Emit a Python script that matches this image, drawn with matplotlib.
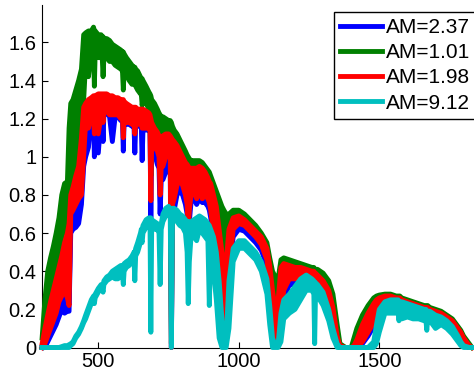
import matplotlib
matplotlib.use('Agg')
import matplotlib.pyplot as plt

plt.rcParams['font.family'] = ['Liberation Sans', 'DejaVu Sans']

# wavelength grid (nm)
wavelength = [300, 310, 320, 330, 340, 350, 360, 370, 380, 390, 396, 402, 410, 420, 430, 440, 448,
              455, 465, 475, 483, 486, 489, 500, 510, 514, 517, 520, 530, 540, 550, 560, 570, 580,
              586, 589, 592, 600, 610, 620, 627, 630, 633, 640, 650, 653, 656, 659, 670, 680,
              684, 687, 690, 700,
              710, 716, 720, 724, 730, 740, 750, 756, 760, 764, 770, 780, 790, 800, 810,
              816, 820, 824, 830, 840, 850, 860, 870, 880, 890, 895, 900, 910, 920, 930,
              940, 947, 955, 965, 980, 1000,
              1020, 1040, 1060, 1080, 1100, 1110, 1120, 1130, 1140, 1150, 1160, 1180, 1200, 1220, 1240,
              1260, 1267, 1270, 1273, 1280, 1300, 1320, 1335, 1350, 1360, 1380, 1400,
              1410, 1420, 1440, 1460, 1480, 1490, 1500, 1520, 1540, 1560, 1567, 1570, 1573, 1580, 1600,
              1620, 1640, 1660, 1666, 1669, 1672, 1680, 1700, 1720, 1740, 1760, 1780, 1790, 1800, 1820,
              1830]

# each spectrum wiggles fast, so keep its upper and lower edge
am237_top = [0.00, 0.04, 0.10, 0.14, 0.18, 0.22, 0.26, 0.28, 0.27, 0.24, 0.23, 0.78, 0.80, 0.87, 0.92, 1.05, 1.22,
             1.22, 1.24, 1.24, 1.24, 1.24, 1.24, 1.25, 1.25, 1.25, 1.24, 1.25, 1.25, 1.24, 1.24, 1.23, 1.23, 1.22,
             1.22, 1.22, 1.22, 1.21, 1.20, 1.19, 1.19, 1.19, 1.18, 1.18, 1.18, 1.18, 1.18, 1.17, 1.16, 1.15,
             1.14, 1.12, 1.10, 1.08,
             1.07, 1.05, 1.04, 1.04, 1.05, 1.06, 1.06, 1.05, 1.04, 1.03, 1.02, 1.00, 0.97, 0.94, 0.91,
             0.90, 0.89, 0.88, 0.88, 0.88, 0.88, 0.89, 0.88, 0.86, 0.84, 0.82, 0.81, 0.76, 0.70, 0.58,
             0.46, 0.36, 0.40, 0.58, 0.64, 0.66,
             0.65, 0.62, 0.59, 0.55, 0.50, 0.41, 0.28, 0.18, 0.22, 0.40, 0.42, 0.41, 0.40, 0.40, 0.39,
             0.38, 0.38, 0.37, 0.37, 0.36, 0.33, 0.28, 0.19, 0.05, 0.00, 0.00, 0.00,
             0.00, 0.02, 0.10, 0.16, 0.21, 0.23, 0.24, 0.25, 0.25, 0.25, 0.25, 0.25, 0.25, 0.24, 0.23,
             0.22, 0.21, 0.20, 0.20, 0.20, 0.20, 0.19, 0.18, 0.17, 0.15, 0.13, 0.09, 0.07, 0.04, 0.00,
             0.00]
am237_bot = [0.00, 0.00, 0.03, 0.06, 0.09, 0.12, 0.16, 0.20, 0.18, 0.19, 0.19, 0.60, 0.62, 0.63, 0.65, 0.75, 0.95,
             1.00, 1.05, 1.21, 1.21, 1.00, 1.21, 1.02, 1.21, 1.21, 1.08, 1.23, 1.23, 1.21, 1.08, 1.21, 1.21, 1.19,
             1.19, 1.03, 1.19, 1.17, 1.17, 1.16, 1.16, 1.02, 1.16, 1.16, 1.16, 1.16, 0.98, 1.14, 1.14, 1.14,
             1.13, 0.68, 1.05, 1.02,
             0.96, 0.94, 0.70, 0.88, 0.88, 0.92, 0.92, 0.92, 0.00, 0.70, 0.72, 0.80, 0.82, 0.80, 0.75,
             0.70, 0.57, 0.66, 0.76, 0.78, 0.75, 0.78, 0.76, 0.76, 0.74, 0.72, 0.68, 0.56, 0.40, 0.25,
             0.14, 0.08, 0.16, 0.35, 0.58, 0.62,
             0.61, 0.58, 0.55, 0.51, 0.43, 0.27, 0.10, 0.04, 0.06, 0.12, 0.25, 0.33, 0.33, 0.34, 0.34,
             0.33, 0.31, 0.28, 0.31, 0.31, 0.27, 0.21, 0.12, 0.01, 0.00, 0.00, 0.00,
             0.00, 0.00, 0.02, 0.06, 0.11, 0.15, 0.18, 0.22, 0.22, 0.21, 0.21, 0.21, 0.21, 0.20, 0.19,
             0.18, 0.17, 0.16, 0.16, 0.16, 0.16, 0.16, 0.15, 0.14, 0.12, 0.09, 0.05, 0.03, 0.01, 0.00,
             0.00]

am101_top = [0.05, 0.25, 0.40, 0.47, 0.53, 0.60, 0.68, 0.80, 0.86, 0.87, 1.15, 1.28, 1.30, 1.35, 1.40, 1.46, 1.64,
             1.65, 1.66, 1.66, 1.68, 1.66, 1.66, 1.64, 1.64, 1.63, 1.63, 1.62, 1.62, 1.61, 1.59, 1.58, 1.57, 1.56,
             1.55, 1.55, 1.54, 1.52, 1.50, 1.48, 1.47, 1.47, 1.46, 1.45, 1.42, 1.41, 1.41, 1.40, 1.37, 1.34,
             1.33, 1.32, 1.30, 1.28,
             1.25, 1.23, 1.22, 1.21, 1.21, 1.20, 1.19, 1.19, 1.18, 1.16, 1.14, 1.12, 1.09, 1.06, 1.03,
             1.01, 1.00, 0.99, 0.98, 0.98, 0.98, 0.98, 0.97, 0.95, 0.93, 0.92, 0.90, 0.86, 0.82, 0.78,
             0.74, 0.72, 0.70, 0.70, 0.72, 0.72,
             0.70, 0.67, 0.64, 0.60, 0.55, 0.47, 0.40, 0.37, 0.36, 0.46, 0.47, 0.46, 0.45, 0.44, 0.43,
             0.42, 0.42, 0.41, 0.41, 0.41, 0.39, 0.35, 0.28, 0.12, 0.02, 0.00, 0.00,
             0.05, 0.10, 0.17, 0.22, 0.26, 0.27, 0.275, 0.28, 0.28, 0.27, 0.27, 0.27, 0.27, 0.26, 0.25,
             0.24, 0.23, 0.22, 0.22, 0.22, 0.22, 0.21, 0.20, 0.19, 0.17, 0.15, 0.11, 0.09, 0.06, 0.02,
             0.00]
am101_bot = [0.00, 0.08, 0.20, 0.30, 0.36, 0.42, 0.50, 0.58, 0.62, 0.66, 0.75, 0.85, 0.90, 1.00, 1.10, 1.18, 1.30,
             1.50, 1.42, 1.55, 1.55, 1.37, 1.55, 1.52, 1.52, 1.52, 1.42, 1.52, 1.52, 1.50, 1.50, 1.48, 1.47, 1.46,
             1.45, 1.35, 1.45, 1.43, 1.40, 1.38, 1.38, 1.38, 1.37, 1.35, 1.33, 1.33, 1.27, 1.30, 1.28, 1.25,
             1.25, 0.90, 1.20, 1.18,
             1.15, 1.12, 1.00, 1.10, 1.12, 1.12, 1.10, 1.10, 0.02, 1.00, 1.00, 1.00, 0.98, 0.95, 0.92,
             0.88, 0.70, 0.85, 0.88, 0.90, 0.90, 0.90, 0.88, 0.86, 0.84, 0.83, 0.80, 0.72, 0.60, 0.50,
             0.44, 0.42, 0.45, 0.60, 0.68, 0.69,
             0.67, 0.64, 0.61, 0.57, 0.50, 0.38, 0.30, 0.27, 0.28, 0.33, 0.40, 0.42, 0.42, 0.41, 0.40,
             0.39, 0.38, 0.35, 0.38, 0.38, 0.35, 0.30, 0.20, 0.05, 0.00, 0.00, 0.00,
             0.00, 0.03, 0.08, 0.15, 0.20, 0.23, 0.25, 0.26, 0.26, 0.25, 0.25, 0.25, 0.25, 0.24, 0.23,
             0.22, 0.21, 0.20, 0.20, 0.20, 0.20, 0.19, 0.18, 0.17, 0.15, 0.12, 0.08, 0.06, 0.03, 0.00,
             0.00]

am198_top = [0.02, 0.10, 0.17, 0.24, 0.30, 0.36, 0.42, 0.48, 0.55, 0.60, 0.65, 0.80, 0.84, 0.90, 0.95, 1.10, 1.26,
             1.28, 1.30, 1.31, 1.32, 1.32, 1.32, 1.33, 1.33, 1.33, 1.33, 1.33, 1.33, 1.32, 1.32, 1.31, 1.31, 1.30,
             1.30, 1.30, 1.29, 1.28, 1.27, 1.26, 1.26, 1.26, 1.26, 1.25, 1.25, 1.25, 1.25, 1.25, 1.24, 1.23,
             1.22, 1.20, 1.18, 1.15,
             1.13, 1.11, 1.10, 1.10, 1.11, 1.12, 1.12, 1.11, 1.10, 1.09, 1.08, 1.06, 1.03, 1.00, 0.97,
             0.96, 0.95, 0.94, 0.94, 0.94, 0.94, 0.95, 0.94, 0.92, 0.89, 0.87, 0.86, 0.80, 0.74, 0.62,
             0.50, 0.40, 0.45, 0.62, 0.68, 0.69,
             0.67, 0.64, 0.61, 0.58, 0.52, 0.43, 0.30, 0.20, 0.25, 0.42, 0.44, 0.43, 0.42, 0.42, 0.41,
             0.40, 0.40, 0.39, 0.39, 0.38, 0.35, 0.30, 0.21, 0.06, 0.01, 0.00, 0.00,
             0.01, 0.04, 0.12, 0.18, 0.23, 0.25, 0.26, 0.27, 0.27, 0.26, 0.26, 0.26, 0.26, 0.25, 0.24,
             0.23, 0.22, 0.21, 0.21, 0.21, 0.21, 0.20, 0.19, 0.18, 0.16, 0.14, 0.10, 0.08, 0.05, 0.01,
             0.00]
am198_bot = [0.00, 0.02, 0.06, 0.10, 0.14, 0.18, 0.24, 0.27, 0.30, 0.26, 0.22, 0.70, 0.72, 0.75, 0.78, 0.80, 1.00,
             1.18, 1.15, 1.22, 1.22, 1.12, 1.22, 1.12, 1.22, 1.22, 1.18, 1.24, 1.24, 1.22, 1.22, 1.22, 1.22, 1.20,
             1.20, 1.10, 1.20, 1.18, 1.18, 1.17, 1.17, 1.12, 1.17, 1.17, 1.17, 1.17, 1.15, 1.15, 1.15, 1.15,
             1.14, 0.77, 1.08, 1.05,
             1.03, 1.00, 0.80, 0.95, 0.95, 1.00, 1.00, 1.00, 0.00, 0.75, 0.78, 0.85, 0.88, 0.85, 0.80,
             0.75, 0.62, 0.72, 0.80, 0.82, 0.78, 0.82, 0.78, 0.80, 0.78, 0.76, 0.72, 0.60, 0.45, 0.30,
             0.18, 0.11, 0.20, 0.40, 0.62, 0.65,
             0.64, 0.61, 0.58, 0.54, 0.46, 0.30, 0.12, 0.05, 0.08, 0.15, 0.30, 0.36, 0.36, 0.37, 0.37,
             0.36, 0.34, 0.30, 0.34, 0.34, 0.30, 0.24, 0.14, 0.02, 0.00, 0.00, 0.00,
             0.00, 0.00, 0.03, 0.08, 0.13, 0.18, 0.21, 0.24, 0.24, 0.23, 0.23, 0.23, 0.23, 0.22, 0.21,
             0.20, 0.19, 0.18, 0.18, 0.18, 0.18, 0.17, 0.16, 0.15, 0.13, 0.10, 0.06, 0.04, 0.02, 0.00,
             0.00]

am912_top = [0.00, 0.00, 0.00, 0.00, 0.00, 0.00, 0.00, 0.005, 0.01, 0.01, 0.015, 0.02, 0.03, 0.06, 0.08, 0.11, 0.14,
             0.17, 0.21, 0.25, 0.27, 0.27, 0.28, 0.31, 0.33, 0.33, 0.33, 0.35, 0.37, 0.38, 0.40, 0.41, 0.42, 0.43,
             0.43, 0.43, 0.44, 0.45, 0.46, 0.48, 0.50, 0.50, 0.52, 0.55, 0.60, 0.62, 0.62, 0.64, 0.67, 0.68,
             0.68, 0.68, 0.67, 0.66,
             0.65, 0.64, 0.63, 0.65, 0.70, 0.73, 0.74, 0.72, 0.72, 0.73, 0.73, 0.72, 0.70, 0.69, 0.67,
             0.66, 0.66, 0.66, 0.66, 0.67, 0.68, 0.69, 0.68, 0.67, 0.65, 0.64, 0.62, 0.58, 0.50, 0.35,
             0.15, 0.02, 0.05, 0.35, 0.52, 0.56,
             0.56, 0.53, 0.50, 0.45, 0.36, 0.22, 0.05, 0.01, 0.02, 0.18, 0.25, 0.28, 0.32, 0.36, 0.38,
             0.36, 0.35, 0.34, 0.34, 0.33, 0.29, 0.20, 0.10, 0.02, 0.00, 0.00, 0.00,
             0.00, 0.00, 0.00, 0.00, 0.03, 0.12, 0.20, 0.24, 0.25, 0.25, 0.25, 0.24, 0.24, 0.24, 0.23,
             0.22, 0.21, 0.20, 0.20, 0.19, 0.19, 0.19, 0.17, 0.16, 0.14, 0.11, 0.06, 0.03, 0.01, 0.00,
             0.00]
am912_bot = [0.00, 0.00, 0.00, 0.00, 0.00, 0.00, 0.00, 0.00, 0.00, 0.00, 0.00, 0.01, 0.02, 0.05, 0.07, 0.10, 0.13,
             0.15, 0.19, 0.23, 0.25, 0.23, 0.26, 0.29, 0.31, 0.31, 0.29, 0.33, 0.35, 0.36, 0.37, 0.36, 0.36, 0.38,
             0.38, 0.33, 0.40, 0.42, 0.43, 0.45, 0.46, 0.35, 0.48, 0.50, 0.55, 0.57, 0.55, 0.60, 0.63, 0.64,
             0.64, 0.08, 0.63, 0.62,
             0.62, 0.60, 0.33, 0.62, 0.66, 0.69, 0.70, 0.68, 0.00, 0.65, 0.68, 0.66, 0.64, 0.63, 0.60,
             0.50, 0.23, 0.45, 0.58, 0.58, 0.56, 0.62, 0.60, 0.58, 0.56, 0.22, 0.50, 0.40, 0.25, 0.05,
             0.00, 0.00, 0.00, 0.10, 0.45, 0.52,
             0.52, 0.49, 0.46, 0.40, 0.28, 0.12, 0.00, 0.00, 0.00, 0.03, 0.15, 0.18, 0.20, 0.25, 0.30,
             0.30, 0.28, 0.02, 0.28, 0.27, 0.22, 0.14, 0.05, 0.00, 0.00, 0.00, 0.00,
             0.00, 0.00, 0.00, 0.00, 0.00, 0.02, 0.08, 0.18, 0.18, 0.18, 0.18, 0.14, 0.18, 0.15, 0.16,
             0.15, 0.15, 0.14, 0.14, 0.09, 0.14, 0.14, 0.10, 0.12, 0.10, 0.07, 0.03, 0.01, 0.00, 0.00,
             0.00]

labels = ['AM=2.37', 'AM=1.01', 'AM=1.98', 'AM=9.12']
colors = ['#0000ff', '#008000', '#ff0000', '#00bfbf']
tops = [am237_top, am101_top, am198_top, am912_top]
bots = [am237_bot, am101_bot, am198_bot, am912_bot]

fig = plt.figure(figsize=(4.74, 3.73), dpi=100)
ax = fig.add_axes([42.1 / 474, 25.5 / 373, 431.9 / 474, 342.5 / 373])

for i in range(4):
    z = 3 + i
    ax.fill_between(wavelength, bots[i], tops[i], color=colors[i], lw=0, zorder=z)
    ax.plot(wavelength, bots[i], color=colors[i], lw=3.5, zorder=z, clip_on=False)
    ax.plot(wavelength, tops[i], color=colors[i], lw=3.5, zorder=z, clip_on=False, label=labels[i])

ax.set_xlim(300, 1837)
ax.set_ylim(0, 1.796)
ax.set_xticks([500, 1000, 1500])
ax.set_xticklabels(['500', '1000', '1500'])
ax.set_yticks([0, 0.2, 0.4, 0.6, 0.8, 1.0, 1.2, 1.4, 1.6])
ax.set_yticklabels(['0', '0.2', '0.4', '0.6', '0.8', '1', '1.2', '1.4', '1.6'])
ax.tick_params(direction='in', length=4, labelsize=14.5, colors='black')
ax.tick_params(axis='x', pad=3.5)
ax.tick_params(axis='y', pad=4)
ax.spines['top'].set_visible(False)
ax.spines['right'].set_visible(False)

leg = ax.legend(loc='upper left', bbox_to_anchor=(334 / 474, 1 - 11.7 / 373),
                bbox_transform=fig.transFigure, fontsize=15, frameon=True, fancybox=False,
                framealpha=1, edgecolor='black', borderpad=0.3, handlelength=2.0,
                handletextpad=0.2, labelspacing=0.3, borderaxespad=0)
leg.get_frame().set_linewidth(1.0)
leg.set_zorder(10)

fig.savefig('out.png', dpi=100)
